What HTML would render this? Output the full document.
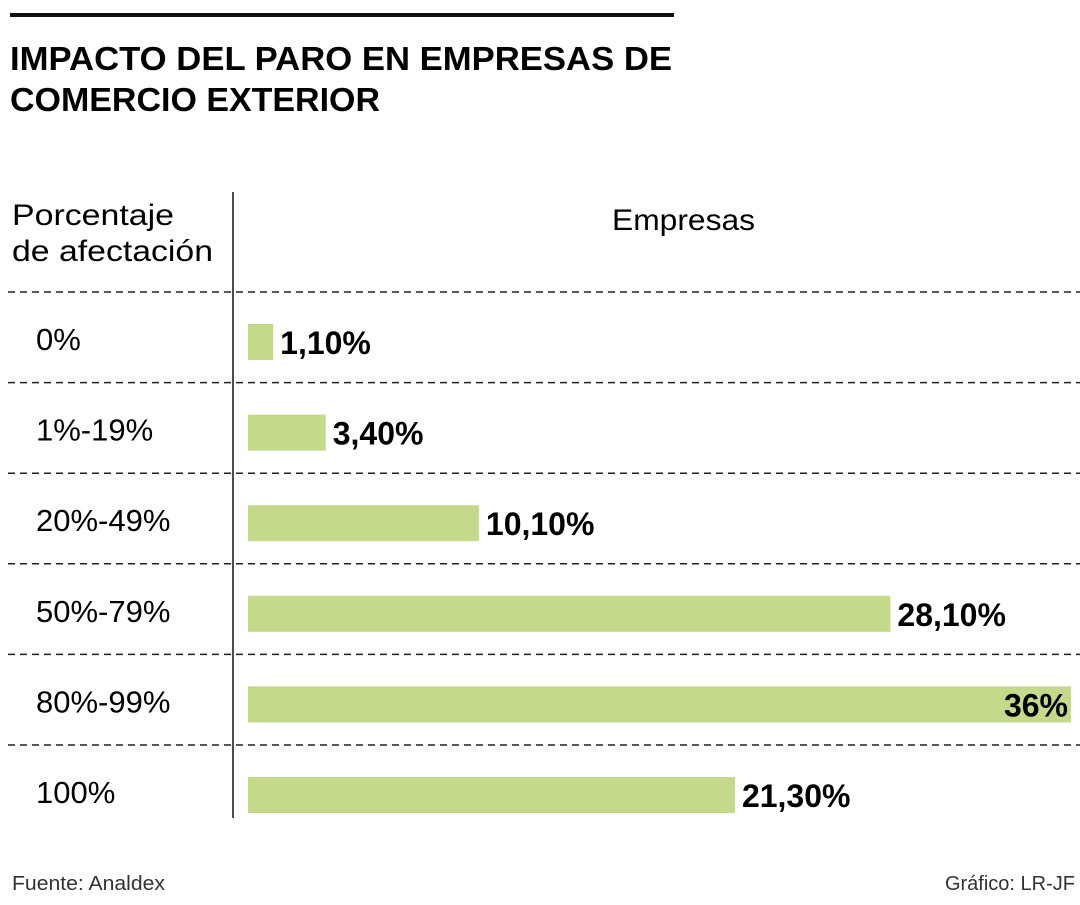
<!DOCTYPE html>
<html><head><meta charset="utf-8"><style>
body{margin:0;background:#fff;width:1080px;height:900px;overflow:hidden;font-family:"Liberation Sans",sans-serif;color:#111}
</style></head><body>
<svg width="1080" height="900" xmlns="http://www.w3.org/2000/svg">
<rect x="10" y="13" width="664" height="4" fill="#111"/>
<text x="10" y="70" font-size="33" font-weight="bold" textLength="662" lengthAdjust="spacingAndGlyphs">IMPACTO DEL  PARO EN EMPRESAS DE</text>
<text x="10" y="111" font-size="33" font-weight="bold" textLength="370" lengthAdjust="spacingAndGlyphs">COMERCIO EXTERIOR</text>
<text x="12" y="225" font-size="30" textLength="162" lengthAdjust="spacingAndGlyphs">Porcentaje</text>
<text x="12" y="261" font-size="30" textLength="201" lengthAdjust="spacingAndGlyphs">de afectación</text>
<text x="612" y="230" font-size="30" textLength="143" lengthAdjust="spacingAndGlyphs">Empresas</text>
<line x1="233" y1="192" x2="233" y2="818" stroke="#111" stroke-width="1.5"/>
<g id="rows"></g>
<text x="12" y="890" font-size="20" fill="#333" textLength="153" lengthAdjust="spacingAndGlyphs">Fuente: Analdex</text>
<text x="1075" y="890" font-size="20" fill="#333" text-anchor="end">Gráfico: LR-JF</text>
</svg>
<script>
const categories=["0%","1%-19%","20%-49%","50%-79%","80%-99%","100%"];
const values=[1.1,3.4,10.1,28.1,36,21.3];
const valueLabels=["1,10%","3,40%","10,10%","28,10%","36%","21,30%"];
const NS="http://www.w3.org/2000/svg";
const g=document.getElementById("rows");
const x0=248, maxW=823, maxV=36;
const xs=v=>v/maxV*maxW;
const rowTop=i=>292+i*90.6;
function mk(t,a){const e=document.createElementNS(NS,t);for(const k in a)e.setAttribute(k,a[k]);g.appendChild(e);return e;}
categories.forEach((c,i)=>{
  const top=rowTop(i);
  const dl=mk("line",{x1:8,x2:1080,y1:top,y2:top,stroke:"#222","stroke-width":1.5,"stroke-dasharray":"7,5"});
  
  
  const t=mk("text",{x:36,y:top+58,"font-size":31});t.textContent=c;
  
  
  const w=xs(values[i]);
  const b=mk("rect",{x:x0,y:top+32,width:w,height:36,fill:"#c5d98a"});
  
  
  const inside=x0+w+150>1080;
  const l=mk("text",{x:inside?x0+w-3:x0+w+7,y:top+62,"font-size":32,"font-weight":"bold","text-anchor":inside?"end":"start"});
  l.textContent=valueLabels[i];
  
  
});
</script>
</body></html>
